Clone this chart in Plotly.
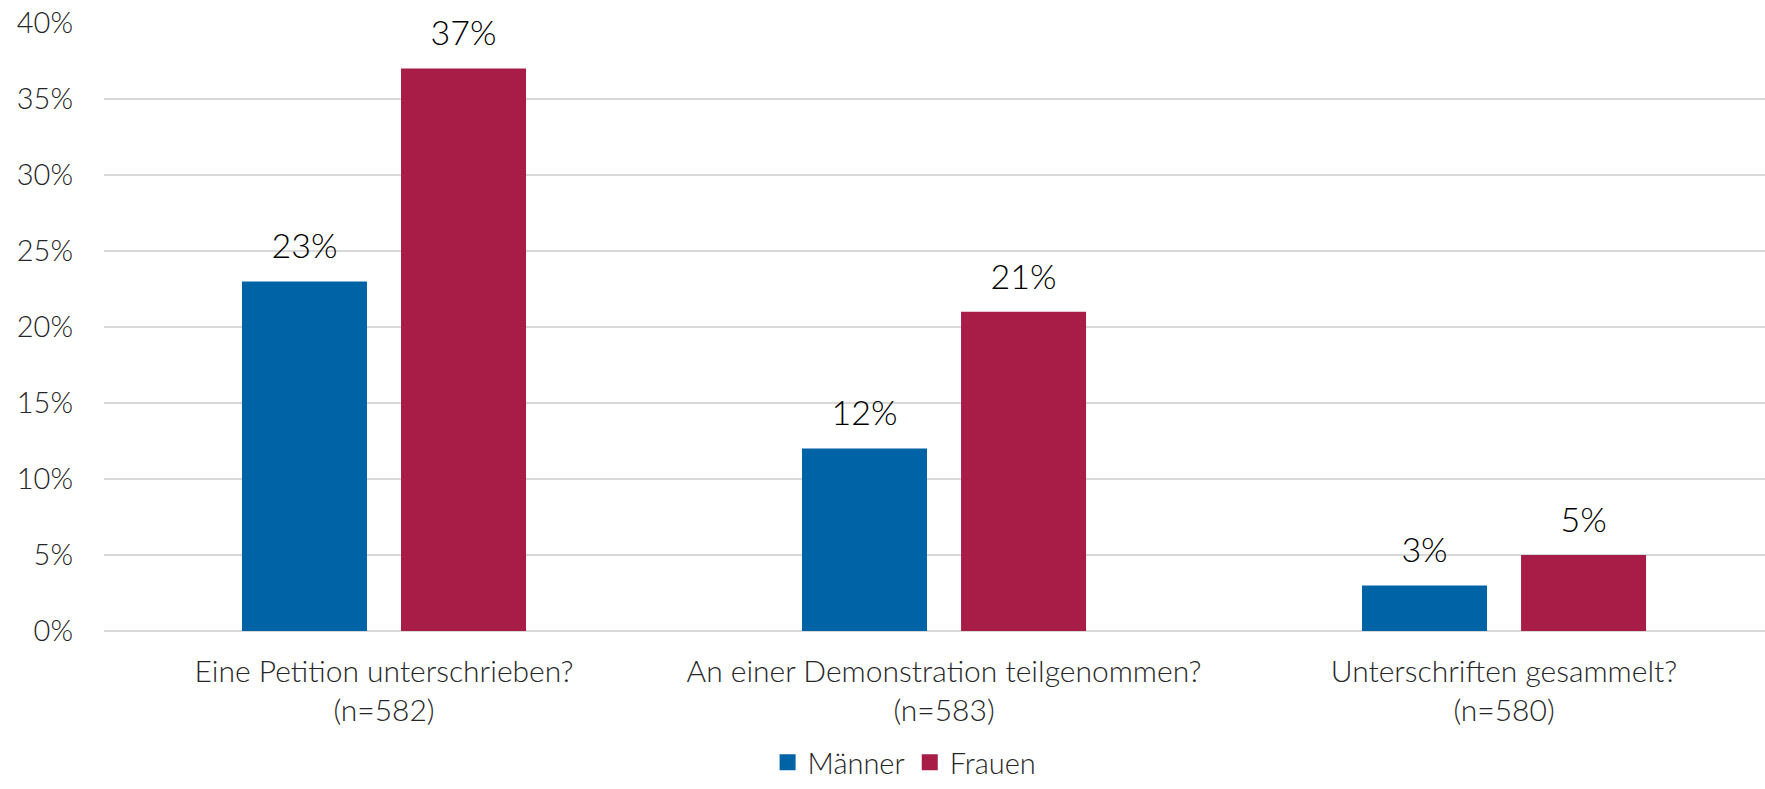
import plotly.graph_objects as go

categories = ["Eine Petition unterschrieben?<br>(n=582)",
              "An einer Demonstration teilgenommen?<br>(n=583)",
              "Unterschriften gesammelt?<br>(n=580)"]
maenner = [23, 12, 3]
frauen = [37, 21, 5]
series_names = ["Männer", "Frauen"]
colors = ["#0063A6", "#A81C48"]
tick_vals = [0, 5, 10, 15, 20, 25, 30, 35, 40]
tick_text = [f"{v}%" for v in tick_vals]

FONT = "Lato"
fig = go.Figure()
for name, vals, col, grp in [(series_names[0], maenner, colors[0], "m"),
                             (series_names[1], frauen, colors[1], "f")]:
    fig.add_trace(go.Bar(
        x=categories, y=vals, name=name, showlegend=False,
        marker=dict(color=col, line=dict(width=0)),
        offsetgroup=grp, alignmentgroup="a",
    ))
for name, vals, grp in [(series_names[0], maenner, "m"), (series_names[1], frauen, "f")]:
    fig.add_trace(go.Scatter(
        x=categories, y=vals, mode="markers+text", showlegend=False,
        marker=dict(size=22, opacity=0),
        text=[f"{v}%" for v in vals], textposition="top center",
        textfont=dict(size=34, color="#000000", family=FONT, weight=300),
        offsetgroup=grp, alignmentgroup="a", cliponaxis=False, hoverinfo="skip",
    ))
# legend entries (on hidden overlay axes so they do not affect grouping)
for name, col in zip(series_names, colors):
    fig.add_trace(go.Scatter(
        x=[None], y=[None], mode="markers", name=name,
        marker=dict(symbol="square", size=16, color=col),
        xaxis="x2", yaxis="y2",
    ))

fig.update_layout(
    width=1765, height=789,
    margin=dict(l=104, r=0, t=23, b=158, autoexpand=False),
    paper_bgcolor="white", plot_bgcolor="white",
    barmode="group", bargap=0.432, bargroupgap=0.214,
    scattermode="group", scattergap=0.432,
    font=dict(family=FONT, size=29, color="#262626", weight=300),
    showlegend=True,
    legend=dict(orientation="h", x=0.482, xanchor="center", y=-0.258, yanchor="bottom",
                font=dict(size=29, color="#262626", family=FONT, weight=300),
                itemwidth=30, tracegroupgap=0, traceorder="normal"),
    xaxis2=dict(overlaying="x", visible=False, range=[0, 1]),
    yaxis2=dict(overlaying="y", visible=False, range=[0, 1]),
)
fig.update_layout(yaxis=dict(
    range=[0, 40], tickvals=tick_vals, ticktext=tick_text,
    showgrid=True, gridcolor="#d9d9d9", gridwidth=1.5,
    zeroline=True, zerolinecolor="#d9d9d9", zerolinewidth=1.5,
    showline=False, ticks="",
    tickfont=dict(size=29, color="#262626", family=FONT, weight=300),
    ticklabelstandoff=30, automargin=False,
))
fig.update_layout(xaxis=dict(
    range=[-0.5, 2.466], showgrid=False, zeroline=False, showline=False,
    ticks="", tickfont=dict(size=30, color="#262626", family=FONT, weight=300),
    ticklabelstandoff=20, automargin=False,
))

fig.write_html("out.html")
